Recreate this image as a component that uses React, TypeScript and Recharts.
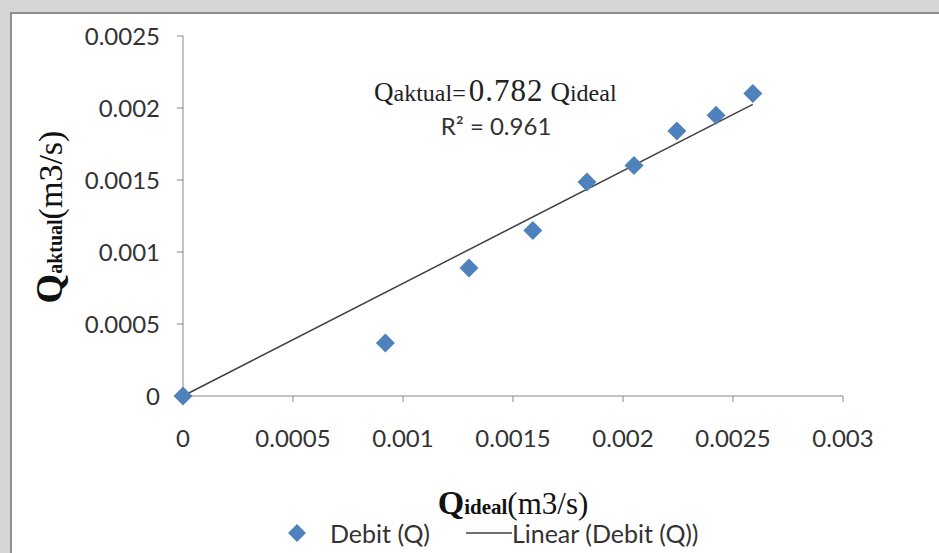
import React from 'react';
import { ScatterChart, Scatter, XAxis, YAxis, Legend, Label } from 'recharts';

// measured points: Q ideal vs Q aktual (m3/s)
const qIdeal = [0, 0.00092, 0.0013, 0.00159, 0.001836, 0.00205, 0.002245, 0.002423, 0.00259];
const qAktual = [0, 0.000368, 0.000889, 0.00115, 0.001486, 0.0016, 0.00184, 0.00195, 0.0021];
const slope = 0.782;
const r2 = 0.961;
const xTicks = [0, 0.0005, 0.001, 0.0015, 0.002, 0.0025, 0.003];
const yTicks = [0, 0.0005, 0.001, 0.0015, 0.002, 0.0025];

const points = qIdeal.map((x, i) => ({ x, y: qAktual[i] }));
const xMax = Math.max(...qIdeal);
const trend = [
  { x: 0, y: 0 },
  { x: xMax, y: slope * xMax },
];

const BLUE = '#4F81BD';
const TEXT = '#333333';
const AXIS = '#868686';
const SANS = 'Lato, "Open Sans", sans-serif';
const SERIF = '"Liberation Serif", "DejaVu Serif", serif';

const Diamond = (props: any) => {
  const { cx, cy } = props;
  const r = 9.5;
  return <polygon points={`${cx},${cy - r} ${cx + r},${cy} ${cx},${cy + r} ${cx - r},${cy}`} fill={BLUE} />;
};

const NoShape = () => <g />;

const XTitle = (props: any) => {
  const { viewBox } = props;
  const cx = viewBox.x + viewBox.width / 2;
  return (
    <text x={cx} y={viewBox.y + 118} textAnchor="middle" fill="#111" fontFamily={SERIF}>
      <tspan fontSize={34} fontWeight="bold">Q</tspan>
      <tspan fontSize={21} fontWeight="bold">ideal</tspan>
      <tspan fontSize={31}>(m3/s)</tspan>
    </text>
  );
};

const YTitle = () => {
  const x = 62;
  const y = 217;
  return (
    <text x={x} y={y} textAnchor="middle" fill="#111" fontFamily={SERIF} transform={`rotate(-90, ${x}, ${y})`}>
      <tspan fontSize={38} fontWeight="bold">Q</tspan>
      <tspan fontSize={20} fontWeight="bold">aktual</tspan>
      <tspan fontSize={34}>(m3/s)</tspan>
    </text>
  );
};

const renderLegend = () => (
  <div style={{ display: 'flex', alignItems: 'center', fontFamily: SANS, fontSize: 25, color: TEXT, whiteSpace: 'nowrap' }}>
    <svg width={18} height={18}>
      <polygon points="9,0 18,9 9,18 0,9" fill={BLUE} />
    </svg>
    <span style={{ marginLeft: 24 }}>Debit (Q)</span>
    <svg width={46} height={4} style={{ marginLeft: 36 }}>
      <line x1={0} y1={2} x2={46} y2={2} stroke="#404040" strokeWidth={1.5} />
    </svg>
    <span>Linear (Debit (Q))</span>
  </div>
);

export default function App() {
  return (
    <div style={{ position: 'absolute', left: 0, top: 0, width: 939, height: 553, background: '#d6d6d6', overflow: 'hidden' }}>
      <div
        style={{
          position: 'absolute',
          left: 10,
          top: 12,
          width: 960,
          height: 580,
          background: '#ffffff',
          borderTop: '2px solid #8f8f8f',
          borderLeft: '2px solid #8f8f8f',
        }}
      />
      <div style={{ position: 'absolute', left: 0, top: 0 }}>
        <ScatterChart width={939} height={553} margin={{ top: 36, right: 96, left: 0, bottom: 77 }}>
          <XAxis
            type="number"
            dataKey="x"
            domain={[0, 0.003]}
            ticks={xTicks}
            interval={0}
            height={80}
            stroke={AXIS}
            tickSize={6}
            tickMargin={28}
            tick={{ fill: TEXT, fontSize: 24, fontFamily: SANS }}
            tickFormatter={(v: number) => String(v)}
          >
            <Label content={XTitle} />
          </XAxis>
          <YAxis
            type="number"
            dataKey="y"
            domain={[0, 0.0025]}
            ticks={yTicks}
            interval={0}
            width={183}
            stroke={AXIS}
            tickSize={6}
            tickMargin={17}
            tick={{ fill: TEXT, fontSize: 24, fontFamily: SANS }}
            tickFormatter={(v: number) => String(v)}
          >
            <Label content={YTitle} />
          </YAxis>
          <Scatter
            name="Linear (Debit (Q))"
            data={trend}
            line={{ stroke: '#404040', strokeWidth: 1.5 }}
            shape={NoShape}
            legendType="line"
            isAnimationActive={false}
          />
          <Scatter name="Debit (Q)" data={points} shape={Diamond} isAnimationActive={false} />
          <Legend
            layout="horizontal"
            verticalAlign="middle"
            align="center"
            content={renderLegend}
            wrapperStyle={{ top: 518, left: 288, width: 480 }}
          />
        </ScatterChart>
      </div>
      <svg width={939} height={553} style={{ position: 'absolute', left: 0, top: 0, pointerEvents: 'none' }}>
        <text x={374} y={101} fill="#222" fontFamily={SERIF}>
          <tspan fontSize={27}>Q</tspan>
          <tspan fontSize={24}>aktual=</tspan>
          <tspan fontSize={31} dx={3} letterSpacing={1}>{slope.toFixed(3)}</tspan>
          <tspan fontSize={27} dx={7} letterSpacing={0}>Q</tspan>
          <tspan fontSize={24}>ideal</tspan>
        </text>
        <text x={496} y={135} textAnchor="middle" fill={TEXT} fontFamily={SANS} fontSize={24}>
          R² = {r2.toFixed(3)}
        </text>
      </svg>
    </div>
  );
}
